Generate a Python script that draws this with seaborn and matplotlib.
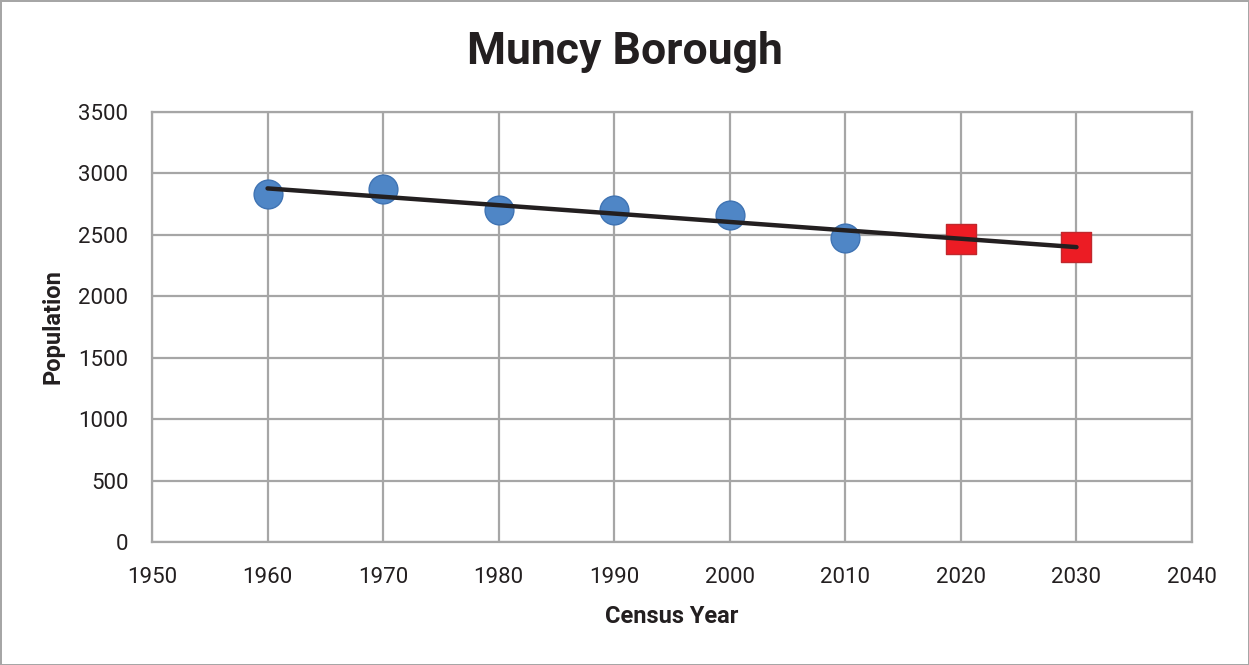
import matplotlib
matplotlib.use("Agg")
import matplotlib.pyplot as plt
import seaborn as sns
import pandas as pd

# Census counts and projections
census_years = [1960, 1970, 1980, 1990, 2000, 2010]
census_pop = [2830, 2872, 2700, 2702, 2663, 2477]
proj_years = [2020, 2030]
proj_pop = [2468, 2400]
# trend line ends
trend_years = [1960, 2030]
trend_pop = [2878, 2400]

x_ticks = [1950, 1960, 1970, 1980, 1990, 2000, 2010, 2020, 2030, 2040]
y_ticks = [0, 500, 1000, 1500, 2000, 2500, 3000, 3500]

census = pd.DataFrame({"year": census_years, "pop": census_pop})
proj = pd.DataFrame({"year": proj_years, "pop": proj_pop})
trend = pd.DataFrame({"year": trend_years, "pop": trend_pop})

sns.set_style("whitegrid")
plt.rcParams["font.family"] = ["Roboto", "DejaVu Sans"]

fig = plt.figure(figsize=(12.49, 6.65), dpi=100)
fig.patch.set_edgecolor("#a6a6a6")
fig.patch.set_linewidth(2)
ax = fig.add_axes([0.1217, 0.185, 0.8327, 0.6466])

sns.scatterplot(data=census, x="year", y="pop", ax=ax, s=430, color="#4f86c6",
                edgecolor="#3f73b3", linewidth=1, zorder=3, legend=False)
sns.scatterplot(data=proj, x="year", y="pop", ax=ax, marker="s", s=470, color="#ec1c24",
                edgecolor="#c0282d", linewidth=1, zorder=3, legend=False)
sns.lineplot(data=trend, x="year", y="pop", ax=ax, color="#231f20", linewidth=3.2, zorder=4)

ax.set_xlim(1950, 2040)
ax.set_ylim(0, 3500)
ax.set_xticks(x_ticks)
ax.set_yticks(y_ticks)
ax.tick_params(axis="y", labelsize=16, colors="#231f20", length=0, pad=17)
ax.tick_params(axis="x", labelsize=16, colors="#231f20", length=0, pad=18)
ax.grid(True, color="#a6a6a6", linewidth=1.6)
for s in ax.spines.values():
    s.set_color("#a6a6a6")
    s.set_linewidth(1.6)

ax.set_xlabel("Census Year", fontsize=17, fontweight="bold", color="#231f20", labelpad=12)
ax.set_ylabel("Population", fontsize=17, fontweight="bold", color="#231f20", labelpad=10)
fig.text(0.5, 0.922, "Muncy Borough", ha="center", va="center", fontsize=32,
         fontweight="bold", color="#231f20")

fig.savefig("out.png", dpi=100)
